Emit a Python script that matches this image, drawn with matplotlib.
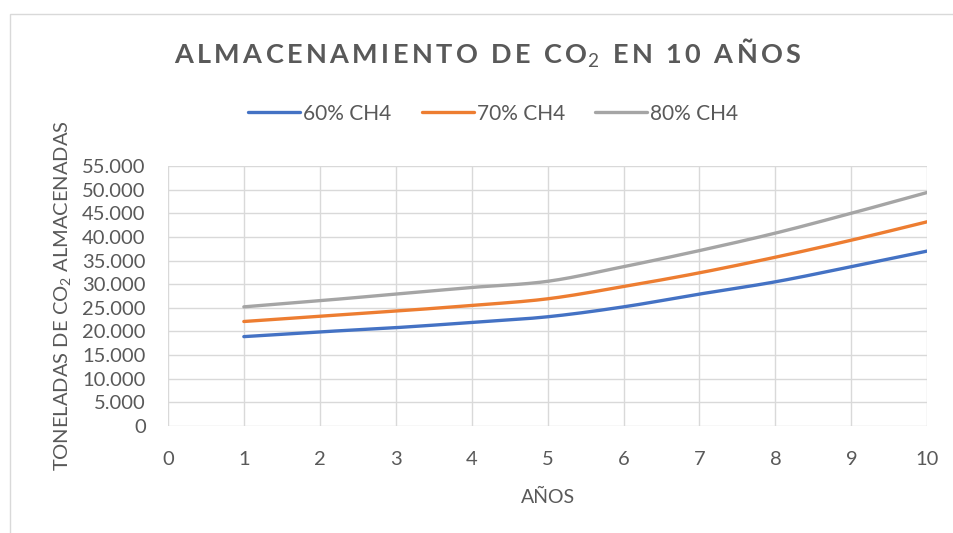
import matplotlib
matplotlib.use("Agg")
import matplotlib.pyplot as plt
import numpy as np
from matplotlib.ticker import FuncFormatter, MultipleLocator
from matplotlib.patches import Rectangle

plt.rcParams['font.family'] = ['Lato', 'DejaVu Sans']
plt.rcParams['mathtext.fontset'] = 'custom'
plt.rcParams['mathtext.rm'] = 'Lato'
plt.rcParams['mathtext.bf'] = 'Lato:bold'

# datos
anios = [1, 2, 3, 4, 5, 6, 7, 8, 9, 10]
ch4_60 = [18900, 19900, 20800, 21900, 23100, 25200, 27900, 30500, 33700, 37000]
ch4_70 = [22100, 23200, 24300, 25500, 26900, 29500, 32400, 35700, 39300, 43200]
ch4_80 = [25200, 26500, 27900, 29300, 30600, 33700, 37100, 40800, 45000, 49400]
series = ["60% CH4", "70% CH4", "80% CH4"]
colores = ["#4472C4", "#ED7D31", "#A5A5A5"]
gris = "#595959"


def suavizar(x, y, n=20):
    # curva tipo Catmull-Rom que pasa por los puntos (linea suavizada de Excel)
    x = np.asarray(x, float)
    y = np.asarray(y, float)
    px = np.r_[x[0], x, x[-1]]
    py = np.r_[y[0], y, y[-1]]
    xs, ys = [], []
    t = np.linspace(0, 1, n, endpoint=False)
    for i in range(1, len(px) - 2):
        for p, out in ((px, xs), (py, ys)):
            p0, p1, p2, p3 = p[i - 1], p[i], p[i + 1], p[i + 2]
            out.extend(0.5 * (2 * p1 + (-p0 + p2) * t
                              + (2 * p0 - 5 * p1 + 4 * p2 - p3) * t ** 2
                              + (-p0 + 3 * p1 - 3 * p2 + p3) * t ** 3))
    xs.append(x[-1])
    ys.append(y[-1])
    return xs, ys


fig = plt.figure(figsize=(9.54, 5.33), dpi=100)
ax = fig.add_axes([0.176, 0.2008, 0.796, 0.4878])

for y, nombre, c in zip([ch4_60, ch4_70, ch4_80], series, colores):
    sx, sy = suavizar(anios, y)
    ax.plot(sx, sy, color=c, lw=2.4, label=nombre, solid_capstyle='round')

ax.set_xlim(0, 10)
ax.set_ylim(0, 55000)
ax.xaxis.set_major_locator(MultipleLocator(1))
ax.yaxis.set_major_locator(MultipleLocator(5000))
ax.yaxis.set_major_formatter(FuncFormatter(lambda v, p: f"{int(v):,}".replace(",", ".")))
ax.grid(True, color="#D9D9D9", lw=1)
ax.set_axisbelow(True)
for s in ax.spines.values():
    s.set_visible(False)
ax.tick_params(length=0, labelsize=14.5, labelcolor=gris)
ax.tick_params(axis='y', pad=16)
ax.tick_params(axis='x', pad=18)

ax.set_xlabel("AÑOS", fontsize=14, color=gris, labelpad=15)
ax.set_ylabel("TONELADAS DE CO$_2$ ALMACENADAS", fontsize=14.5, color=gris, labelpad=6)

titulo = "\u2009".join("ALMACENAMIENTO DE CO") + "$_2$" + "\u2009" + "\u2009".join(" EN 10 AÑOS")
fig.text(0.511, 0.90, titulo, ha='center', va='center', fontsize=19.5,
         fontweight='bold', color=gris)

fig.legend(loc='center', bbox_to_anchor=(0.517, 0.787), ncol=3, frameon=False,
           fontsize=15, labelcolor=gris, handlelength=2.5, handletextpad=0.15,
           columnspacing=1.45)

fig.patches.append(Rectangle((0.0105, -0.01), 1.0, 0.984, transform=fig.transFigure,
                             fill=False, edgecolor="#D9D9D9", lw=1))

fig.savefig("out.png", dpi=100)
